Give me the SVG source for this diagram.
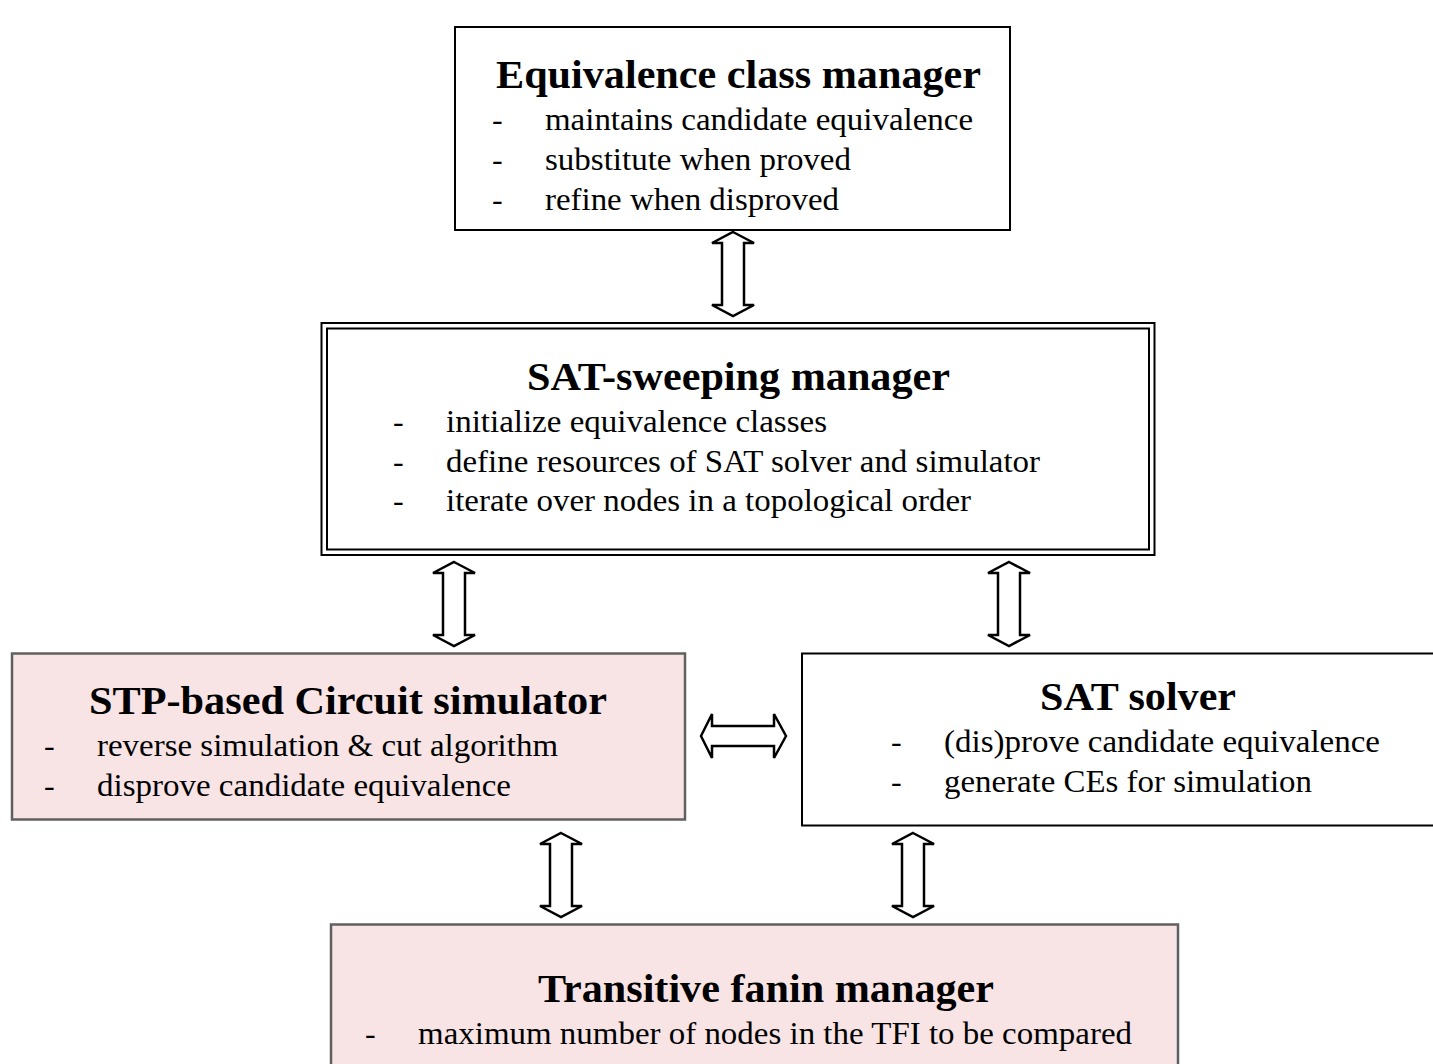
<svg xmlns="http://www.w3.org/2000/svg" width="1433" height="1064" viewBox="0 0 1433 1064">
<style>
.box{fill:#ffffff;stroke:#000000;stroke-width:2}
.pink{fill:#f8e4e5;stroke:#606060;stroke-width:2.5}
.title{font-family:"Liberation Serif","Times New Roman",serif;font-weight:bold;font-size:40px;fill:#000}
.body{font-family:"Liberation Serif","Times New Roman",serif;font-size:32px;fill:#000}
.arrow{fill:#ffffff;stroke:#000000;stroke-width:2.5;stroke-linejoin:miter}
</style>
<rect width="1433" height="1064" fill="#ffffff"/>
<g id="equivalence-class-manager">
<rect class="box" x="455" y="27" width="555" height="203"/>
<text class="title" x="496" y="88" textLength="485" lengthAdjust="spacingAndGlyphs">Equivalence class manager</text>
<text class="body" x="492" y="130">-</text><text class="body" x="545" y="130" textLength="428" lengthAdjust="spacingAndGlyphs">maintains candidate equivalence</text>
<text class="body" x="492" y="170">-</text><text class="body" x="545" y="170" textLength="306" lengthAdjust="spacingAndGlyphs">substitute when proved</text>
<text class="body" x="492" y="210">-</text><text class="body" x="545" y="210" textLength="294" lengthAdjust="spacingAndGlyphs">refine when disproved</text>
</g>
<g id="sat-sweeping-manager">
<rect class="box" x="321.5" y="323" width="833" height="232"/>
<rect x="327" y="328.5" width="822" height="221" fill="none" stroke="#000" stroke-width="2"/>
<text class="title" x="527" y="390" textLength="423" lengthAdjust="spacingAndGlyphs">SAT-sweeping manager</text>
<text class="body" x="393" y="432">-</text><text class="body" x="446" y="432" textLength="381" lengthAdjust="spacingAndGlyphs">initialize equivalence classes</text>
<text class="body" x="393" y="472">-</text><text class="body" x="446" y="472" textLength="594" lengthAdjust="spacingAndGlyphs">define resources of SAT solver and simulator</text>
<text class="body" x="393" y="511">-</text><text class="body" x="446" y="511" textLength="525" lengthAdjust="spacingAndGlyphs">iterate over nodes in a topological order</text>
</g>
<g id="stp-simulator">
<rect class="pink" x="12" y="653.5" width="673" height="166"/>
<text class="title" x="89" y="714" textLength="518" lengthAdjust="spacingAndGlyphs">STP-based Circuit simulator</text>
<text class="body" x="44" y="756">-</text><text class="body" x="97" y="756" textLength="461" lengthAdjust="spacingAndGlyphs">reverse simulation &amp; cut algorithm</text>
<text class="body" x="44" y="796">-</text><text class="body" x="97" y="796" textLength="414" lengthAdjust="spacingAndGlyphs">disprove candidate equivalence</text>
</g>
<g id="sat-solver">
<rect class="box" x="802" y="653.5" width="640" height="172"/>
<text class="title" x="1040" y="710" textLength="196" lengthAdjust="spacingAndGlyphs">SAT solver</text>
<text class="body" x="891" y="752">-</text><text class="body" x="944" y="752" textLength="436" lengthAdjust="spacingAndGlyphs">(dis)prove candidate equivalence</text>
<text class="body" x="891" y="792">-</text><text class="body" x="944" y="792" textLength="368" lengthAdjust="spacingAndGlyphs">generate CEs for simulation</text>
</g>
<g id="transitive-fanin-manager">
<rect class="pink" x="331" y="924.5" width="847" height="150"/>
<text class="title" x="538" y="1002" textLength="456" lengthAdjust="spacingAndGlyphs">Transitive fanin manager</text>
<text class="body" x="365" y="1044">-</text><text class="body" x="418" y="1044" textLength="714" lengthAdjust="spacingAndGlyphs">maximum number of nodes in the TFI to be compared</text>
</g>
<g id="connectors">
<defs>
<path id="varrow" d="M0,-42 L21,-31 L11,-31 L11,31 L21,31 L0,42 L-21,31 L-11,31 L-11,-31 L-21,-31 Z"/>
</defs>
<use href="#varrow" class="arrow" x="733" y="274"/>
<use href="#varrow" class="arrow" x="454" y="604"/>
<use href="#varrow" class="arrow" x="1009" y="604"/>
<use href="#varrow" class="arrow" x="561" y="875"/>
<use href="#varrow" class="arrow" x="913" y="875"/>
<path class="arrow" d="M701,736 L712,714 L712,726 L774,726 L774,714 L786,736 L774,758 L774,746 L712,746 L712,758 Z"/>
</g>
</svg>
